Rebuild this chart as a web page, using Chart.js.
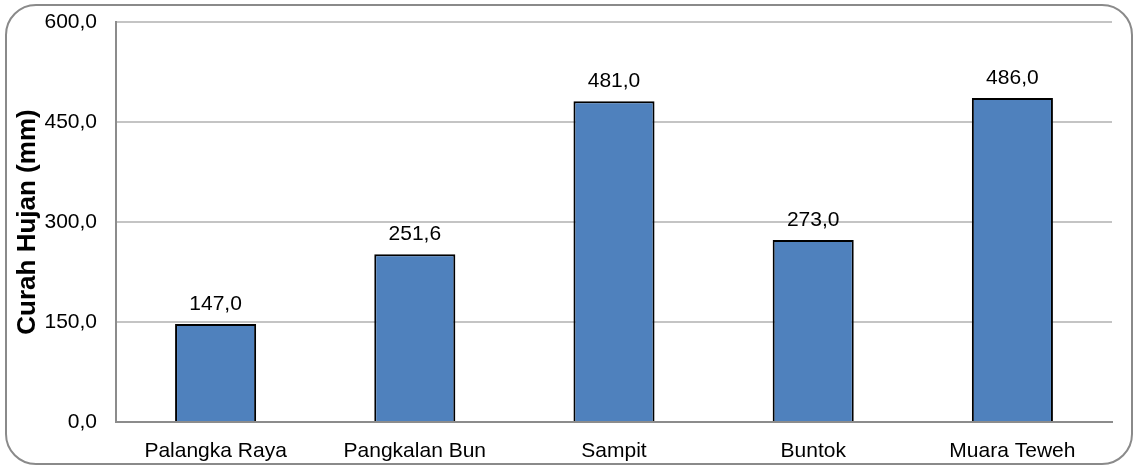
<!DOCTYPE html>
<html>
<head>
<meta charset="utf-8">
<script src="https://cdn.jsdelivr.net/npm/chart.js@4.4.0/dist/chart.umd.min.js"></script>
<style>
    html, body { margin: 0; padding: 0; background: #fff; }
    #wrap { width: 1138px; height: 468px; position: relative; }
</style>
</head>
<body>
<div id="wrap"><canvas id="rain-chart"></canvas></div>
<script>
// Data
const stations = ['Palangka Raya', 'Pangkalan Bun', 'Sampit', 'Buntok', 'Muara Teweh'];
const rainfall = [147.0, 251.6, 481.0, 273.0, 486.0];
const yTicks = [0, 150, 300, 450, 600];

const fontFamily = '"Liberation Sans", Arial, sans-serif';

function fmt(v) {
    return Number(v).toFixed(1).replace('.', ',');
}

// rounded frame round the whole chart
const framePlugin = {
    id: 'frame',
    beforeDraw: function(chart) {
        const ctx = chart.ctx;
        ctx.save();
        ctx.fillStyle = '#fff';
        ctx.fillRect(0, 0, chart.width, chart.height);
        ctx.strokeStyle = '#8a8a8a';
        ctx.lineWidth = 2;
        ctx.beginPath();
        ctx.roundRect(6, 5, chart.width - 12, chart.height - 9, 30);
        ctx.stroke();
        ctx.restore();
    }
};

// value labels above the bars
const valueLabels = {
    id: 'valueLabels',
    afterDatasetsDraw: function(chart) {
        const ctx = chart.ctx;
        const meta = chart.getDatasetMeta(0);
        ctx.save();
        ctx.font = '21px ' + fontFamily;
        ctx.fillStyle = '#000';
        ctx.textAlign = 'center';
        ctx.textBaseline = 'alphabetic';
        meta.data.forEach(function(bar, i) {
            ctx.fillText(fmt(rainfall[i]), bar.x, bar.y - 14);
        });
        ctx.restore();
    }
};

document.addEventListener('DOMContentLoaded', function() {
    const ctx = document.getElementById('rain-chart');
    new Chart(ctx, {
        type: 'bar',
        data: {
            labels: stations,
            datasets: [{
                data: rainfall,
                backgroundColor: '#4f81bd',
                borderColor: '#000',
                borderWidth: 2,
                barPercentage: 0.407,
                categoryPercentage: 1
            }]
        },
        options: {
            responsive: true,
            maintainAspectRatio: false,
            animation: false,
            layout: {
                padding: { top: 22, right: 26, bottom: 0, left: 0 }
            },
            plugins: {
                legend: { display: false },
                tooltip: { enabled: false }
            },
            scales: {
                x: {
                    grid: { display: false, drawTicks: false },
                    border: { display: true, color: '#8c8c8c', width: 2 },
                    ticks: {
                        color: '#000',
                        padding: 17,
                        maxRotation: 0,
                        font: { family: fontFamily, size: 21 }
                    },
                    afterFit: function(scale) { scale.height = 46; }
                },
                y: {
                    min: 0,
                    max: 600,
                    afterBuildTicks: function(scale) {
                        scale.ticks = yTicks.map(v => ({ value: v }));
                    },
                    grid: { color: '#c4c4c4', lineWidth: 2, drawTicks: false },
                    border: { display: true, color: '#8c8c8c', width: 2 },
                    ticks: {
                        color: '#000',
                        padding: 19,
                        font: { family: fontFamily, size: 21 },
                        callback: function(value) { return fmt(value); }
                    },
                    title: {
                        display: true,
                        text: 'Curah Hujan (mm)',
                        color: '#000',
                        padding: { top: 12, bottom: 0 },
                        font: { family: fontFamily, size: 26, weight: 'bold' }
                    },
                    afterFit: function(scale) {
                        scale.width = 116;
                        scale.paddingTop = 0;
                        scale.paddingBottom = 0;
                    }
                }
            }
        },
        plugins: [framePlugin, valueLabels]
    });
});
</script>
</body>
</html>
